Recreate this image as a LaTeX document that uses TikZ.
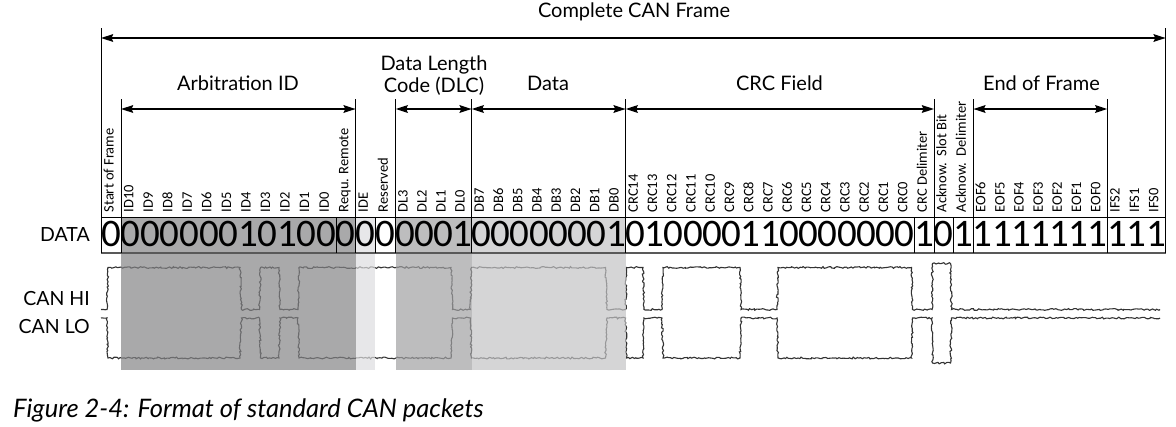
\documentclass[tikz,border=0pt]{standalone}
\usepackage{fontspec}
\setmainfont{Lato}
\newfontfamily\carl{Carlito}
\usetikzlibrary{arrows.meta,decorations.pathmorphing}
\definecolor{fArb}{RGB}{132,132,134}
\definecolor{fIde}{RGB}{221,221,223}
\definecolor{fDlc}{RGB}{161,161,163}
\definecolor{fDat}{RGB}{195,195,197}
\begin{document}
\begin{tikzpicture}[x=1pt,y=-1pt,
  head/.style={font=\fontsize{20}{22}\selectfont, inner sep=0pt, anchor=base},
  side/.style={font=\fontsize{19.5}{22}\selectfont, inner sep=0pt, anchor=base east},
  vlab/.style={font=\carl\fontsize{14.5}{14.5}\selectfont, rotate=90, anchor=mid west, inner sep=0pt},
  digit/.style={font=\carl\fontsize{39}{39}\selectfont, anchor=base, inner sep=0pt},
  sepline/.style={line width=0.8pt, black},
  dimline/.style={line width=2.2pt, {Stealth[length=12pt,width=7.5pt,inset=1.5pt]}-{Stealth[length=12pt,width=7.5pt,inset=1.5pt]}},
  wave/.style={line width=1.1pt, draw=black!80, decorate, decoration={random steps, segment length=1.8pt, amplitude=0.9pt}},
  shade/.style={opacity=0.7},
]
\useasboundingbox (0,0) rectangle (1176,426);
\pgfmathsetseed{11}
% waveforms
\draw[wave] (101,309.5) -- (107,309.5) -- (108,267.5) -- (240,267.5) -- (241.5,309.5) -- (259.5,309.5) -- (260.5,267.5) -- (279,267.5) -- (280,309.5) -- (298,309.5) -- (299,267.5) -- (451,267.5) -- (452.5,309.5) -- (470.5,309.5) -- (471.5,267.5) -- (605.5,267.5) -- (607,309.5) -- (625.5,309.5) -- (626.5,267.5) -- (643,267.5) -- (644,309.5) -- (662,309.5) -- (663,267.5) -- (740,267.5) -- (741,309.5) -- (777,309.5) -- (778,267.5) -- (911.5,267.5) -- (912.5,309.5) -- (932,309.5) -- (932.5,263.5) -- (950.5,263.5) -- (951.5,309.5) -- (1160,309.5);
\draw[wave] (101,318) -- (107,318) -- (108,358) -- (240,358) -- (241.5,318) -- (259.5,318) -- (260.5,358) -- (279,358) -- (280,318) -- (298,318) -- (299,358) -- (451,358) -- (452.5,318) -- (470.5,318) -- (471.5,358) -- (605.5,358) -- (607,318) -- (625.5,318) -- (626.5,358) -- (643,358) -- (644,318) -- (662,318) -- (663,358) -- (740,358) -- (741,318) -- (777,318) -- (778,358) -- (911.5,358) -- (912.5,318) -- (932,318) -- (932.5,363) -- (950.5,363) -- (951.5,318) -- (1160,318);
% shaded fields
\fill[fArb,shade] (121,217) rectangle (355.7,370);
\fill[fIde,shade] (355.7,217) rectangle (375,370);
\fill[fDlc,shade] (395.7,217) rectangle (471.7,370);
\fill[fDat,shade] (471.7,217) rectangle (625.7,370);
% row frame
\coordinate (RL) at (101,217);
\coordinate (RR) at (1165.7,217);
\coordinate (BL) at (101,253);
\coordinate (BR) at (1165.7,253);
\draw[sepline] (RL) -- (RR);
\draw[line width=1.6pt, black!65] (BL) -- (BR);
\foreach \x [count=\n] in {101,121,336,355.7,375,395.7,471.7,625.7,914.5,934,953.5,973.3,1107.3,1165.7}{
  \coordinate (S\n a) at (\x,217);
  \coordinate (S\n b) at (\x,253);
  \draw[sepline] (S\n a) -- (S\n b);
}
% tall lines
\coordinate (T0) at (101,28);
\coordinate (T1) at (1165.7,28);
\draw[sepline] (T0) -- (RL);
\draw[sepline] (T1) -- (RR);
\foreach \x [count=\n] in {121,355.7,395.7,471.7,625.7,934,973.3,1107.3}{
  \coordinate (U\n) at (\x,99);
  \coordinate (V\n) at (\x,217);
  \coordinate (A\n) at (\x,109);
  \draw[sepline] (U\n) -- (V\n);
}
% dimension arrows
\coordinate (M0) at (101,38);
\coordinate (M1) at (1165.7,38);
\draw[dimline] (M0) -- (M1);
\draw[dimline] (A1) -- (A2);
\draw[dimline] (A3) -- (A4);
\draw[dimline] (A4) -- (A5);
\draw[dimline] (A5) -- (A6);
\draw[dimline] (A7) -- (A8);
% headings
\node[head] (hframe) at (634,17.3) {Complete CAN Frame};
\node[head] (harb) at (238,90.7) {Arbitration ID};
\node[head] (hdlc1) at (434,70) {Data Length};
\node[head] (hdlc2) at (434,92.5) {Code (DLC)};
\node[head] (hdata) at (548,90.7) {Data};
\node[head] (hcrc) at (779.5,90.7) {CRC Field};
\node[head] (heof) at (1041.5,90.7) {End of Frame};
% side labels
\node[side] (sdata) at (90,241.7) {DATA};
\node[side] (shi) at (90,305) {CAN HI};
\node[side] (slo) at (90,333) {CAN LO};
% vertical bit labels and data digits
\foreach \x/\t/\d [count=\n] in {111/Start of Frame/0,130.75/ID10/0,150.3/ID9/0,169.85/ID8/0,189.4/ID7/0,208.95/ID6/0,228.5/ID5/0,248.05/ID4/1,267.6/ID3/0,287.15/ID2/1,306.7/ID1/0,326.25/ID0/0,345.85/Requ. Remote/0,365.35/IDE/0,385.35/Reserved/0,405.2/DL3/0,424.2/DL2/0,443.2/DL1/0,462.2/DL0/1,481.35/DB7/0,500.6/DB6/0,519.85/DB5/0,539.1/DB4/0,558.35/DB3/0,577.6/DB2/0,596.85/DB1/0,616.1/DB0/1,635.35/CRC14/0,654.6/CRC13/1,673.85/CRC12/0,693.1/CRC11/0,712.35/CRC10/0,731.6/CRC9/0,750.85/CRC8/1,770.1/CRC7/1,789.35/CRC6/0,808.6/CRC5/0,827.85/CRC4/0,847.1/CRC3/0,866.35/CRC2/0,885.6/CRC1/0,904.85/CRC0/0,924.25/CRC Delimiter/1,943.75/Acknow.~~Slot Bit/0,963.4/Acknow.~~Delimiter/1,982.85/EOF6/1,1002/EOF5/1,1021.15/EOF4/1,1040.3/EOF3/1,1059.45/EOF2/1,1078.6/EOF1/1,1097.75/EOF0/1,1117.05/IFS2/1,1136.5/IFS1/1,1155.95/IFS0/1}{
  \node[vlab] (L\n) at (\x,212.5) {\t};
  \node[digit] (D\n) at (\x,246.5) {\d};
}
% caption
\node[font=\itshape\fontsize{25.5}{28}\selectfont, inner sep=0pt, anchor=base west] (cap) at (13,417.3) {Figure 2-4: Format of standard CAN packets};
\end{tikzpicture}
\end{document}
